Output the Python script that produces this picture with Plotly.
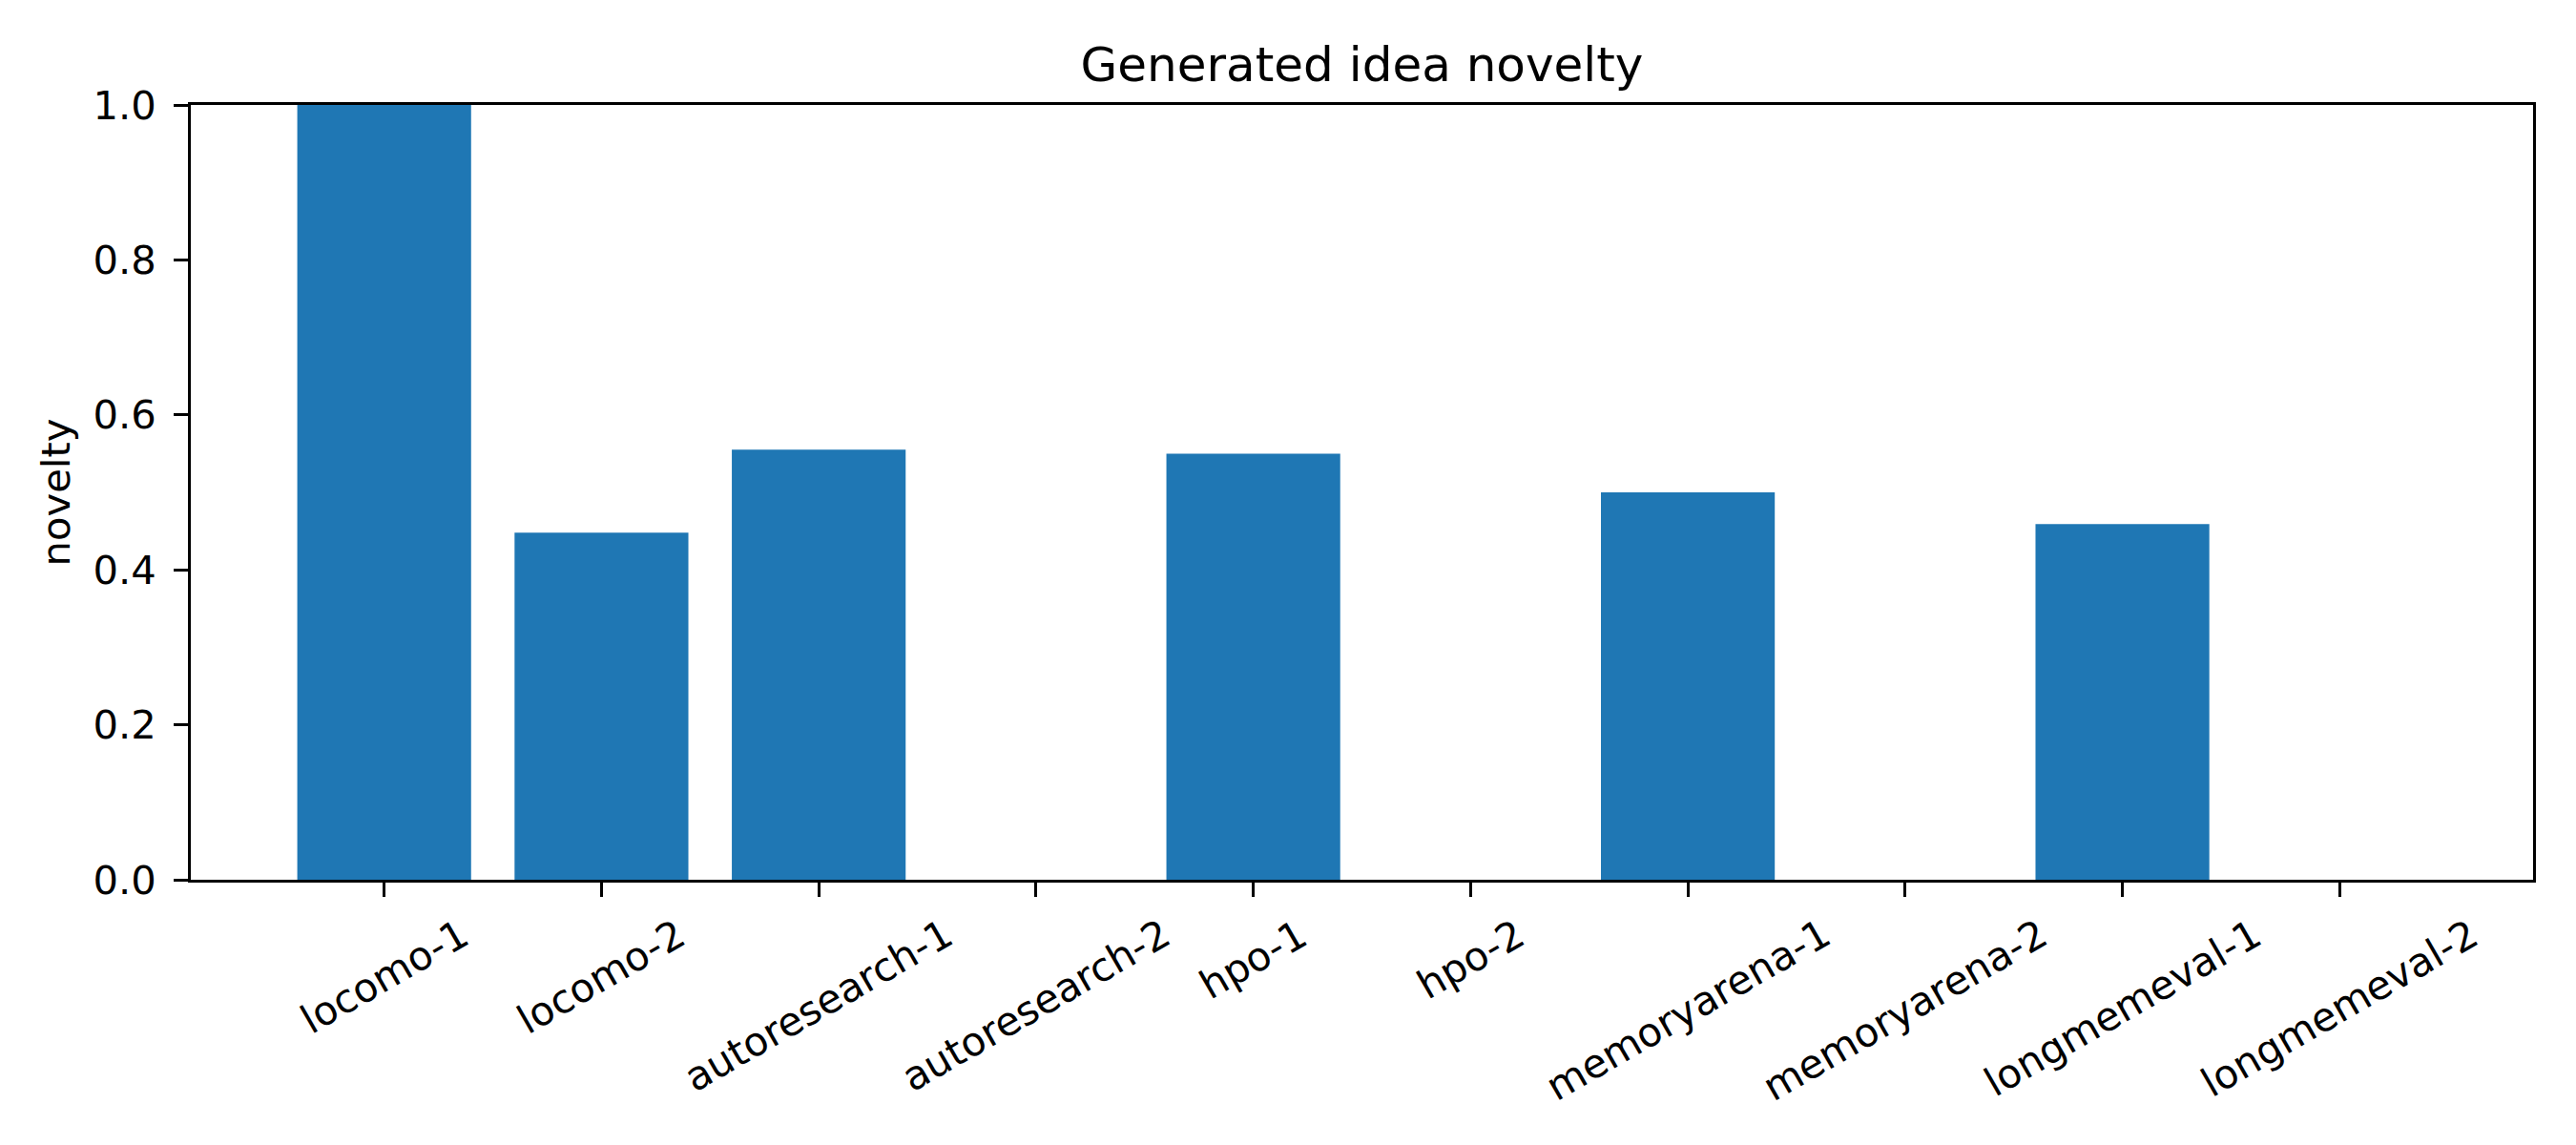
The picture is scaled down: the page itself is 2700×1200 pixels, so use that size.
import plotly.graph_objects as go

categories = ["locomo-1", "locomo-2", "autoresearch-1", "autoresearch-2", "hpo-1",
              "hpo-2", "memoryarena-1", "memoryarena-2", "longmemeval-1", "longmemeval-2"]
novelty = [1.0, 0.448, 0.555, 0.0, 0.550, 0.0, 0.500, 0.0, 0.459, 0.0]
y_ticks = [0.0, 0.2, 0.4, 0.6, 0.8, 1.0]
y_tick_text = ["0.0", "0.2", "0.4", "0.6", "0.8", "1.0"]

FONT = "DejaVu Sans"
FS = 41.7
BLUE = "#1f77b4"

fig = go.Figure()
fig.add_trace(go.Bar(x=categories, y=novelty, marker=dict(color=BLUE, line=dict(width=0)),
                     width=0.8))

for c in categories:
    fig.add_annotation(x=c, y=0, xref="x", yref="paper", text=c, showarrow=False,
                       textangle=-30, xanchor="center", yanchor="top", yshift=-29,
                       font=dict(family=FONT, size=FS, color="black"))

fig.update_layout(
    width=2700, height=1200,
    margin=dict(l=200, r=45, t=110, b=278),
    paper_bgcolor="white", plot_bgcolor="white",
    showlegend=False,
    font=dict(family=FONT, size=FS, color="black"),
    title=dict(text="Generated idea novelty", x=0.5, xref="paper", xanchor="center",
               y=1 - 85 / 1200, yref="container", yanchor="bottom",
               font=dict(family=FONT, size=50, color="black")),
    xaxis=dict(type="category", range=[-0.89, 9.89], showticklabels=False,
               ticks="outside", ticklen=14.6, tickwidth=3.3, tickcolor="black",
               showline=True, linecolor="black", linewidth=3.3, mirror=True,
               showgrid=False, zeroline=False),
    yaxis=dict(range=[0, 1], tickvals=y_ticks, ticktext=y_tick_text,
               ticks="outside", ticklen=14.6, tickwidth=3.3, tickcolor="black",
               ticklabelstandoff=10,
               showline=True, linecolor="black", linewidth=3.3, mirror=True,
               showgrid=False, zeroline=False,
               tickfont=dict(family=FONT, size=FS, color="black"),
               title=dict(text="novelty", standoff=12,
                          font=dict(family=FONT, size=FS, color="black"))),
)

fig.write_html("out.html")
